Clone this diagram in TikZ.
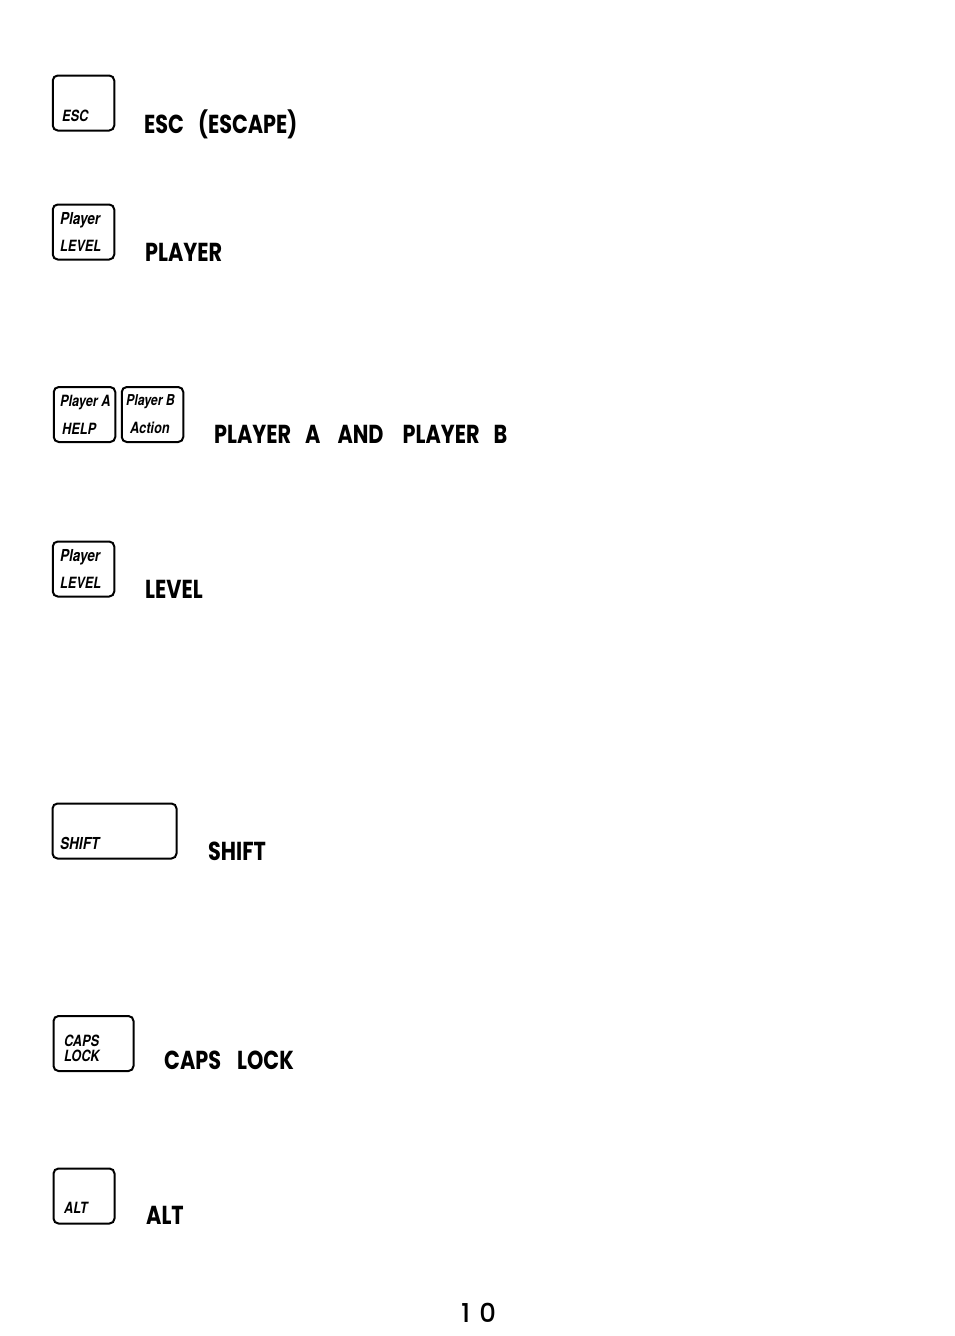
\documentclass[tikz,border=0pt]{standalone}
\usepackage{fontspec}
\usepackage{tikz}
\newfontfamily\keyfont[FakeStretch=0.82]{TeX Gyre Heros}
\newfontfamily\headfont[FakeStretch=0.8]{Poppins}
\newfontfamily\pagefont{Poppins Medium}
\tikzset{
  key/.style={draw, line width=2pt, rounded corners=5pt, inner sep=0pt, minimum height=55pt, minimum width=61.5pt},
  keytext/.style={anchor=base west, inner sep=0pt, font=\keyfont\bfseries\itshape\fontsize{15.5}{15.5}\selectfont},
  keybig/.style={keytext, font=\keyfont\bfseries\itshape\fontsize{16.5}{16.5}\selectfont},
  head/.style={anchor=base west, inner sep=0pt, font=\headfont\bfseries\fontsize{26}{26}\selectfont},
}
\begin{document}
\begin{tikzpicture}[x=1pt, y=-1pt]
    \useasboundingbox (0,0) rectangle (954,1336);
    % Tasti
    \node[key] (esc) at (83.5,103) {};
    \node[key] (player) at (83.5,232) {};
    \node[key] (playera) at (84.5,414.5) {};
    \node[key] (playerb) at (152.5,414.5) {};
    \node[key] (level) at (83.5,569) {};
    \node[key, minimum width=124pt] (shift) at (114.5,831) {};
    \node[key, minimum width=80pt] (caps) at (93.5,1043.5) {};
    \node[key, minimum width=61pt] (alt) at (84,1196) {};

    % Scritte sui tasti
    \node[keytext] (esclabel) at (62,121) {ESC};
    \node[keybig] (playerlabel) at (60,224) {Player};
    \node[keytext] (levellabel) at (60,251) {LEVEL};
    \node[keytext] (alabel) at (60,406) {Player A};
    \node[keytext] (helplabel) at (62,434) {HELP};
    \node[keytext, font=\keyfont\bfseries\itshape\fontsize{15}{15}\selectfont] (blabel) at (126,405) {Player B};
    \node[keytext] (actionlabel) at (130,433) {Action};
    \node[keybig] (playerlabeltwo) at (60,561) {Player};
    \node[keytext] (levellabeltwo) at (60,588) {LEVEL};
    \node[keybig] (shiftlabel) at (60,849) {SHIFT};
    \node[keytext] (capslabel) at (64,1046) {CAPS};
    \node[keytext] (locklabel) at (64,1061) {LOCK};
    \node[keytext] (altlabel) at (64,1213) {ALT};

    % Titoli
    \node[head] (eschead) at (144,133) {ESC\hspace{14pt}(ESCAPE)};
    \node[head] (playerhead) at (145,261) {PLAYER};
    \node[head] (abhead) at (214,443) {PLAYER\hspace{14pt}A\hspace{17pt}AND\hspace{19pt}PLAYER\hspace{14pt}B};
    \node[head] (levelhead) at (145,598) {LEVEL};
    \node[head] (shifthead) at (208,860) {SHIFT};
    \node[head] (capshead) at (164,1069) {CAPS\hspace{16pt}LOCK};
    \node[head] (althead) at (146,1224) {ALT};

    % Pagina
    \node[anchor=base west, inner sep=0pt, font=\pagefont\fontsize{26}{26}\selectfont] (pagenum) at (461,1322) {1\hspace{9pt}0};
\end{tikzpicture}
\end{document}
